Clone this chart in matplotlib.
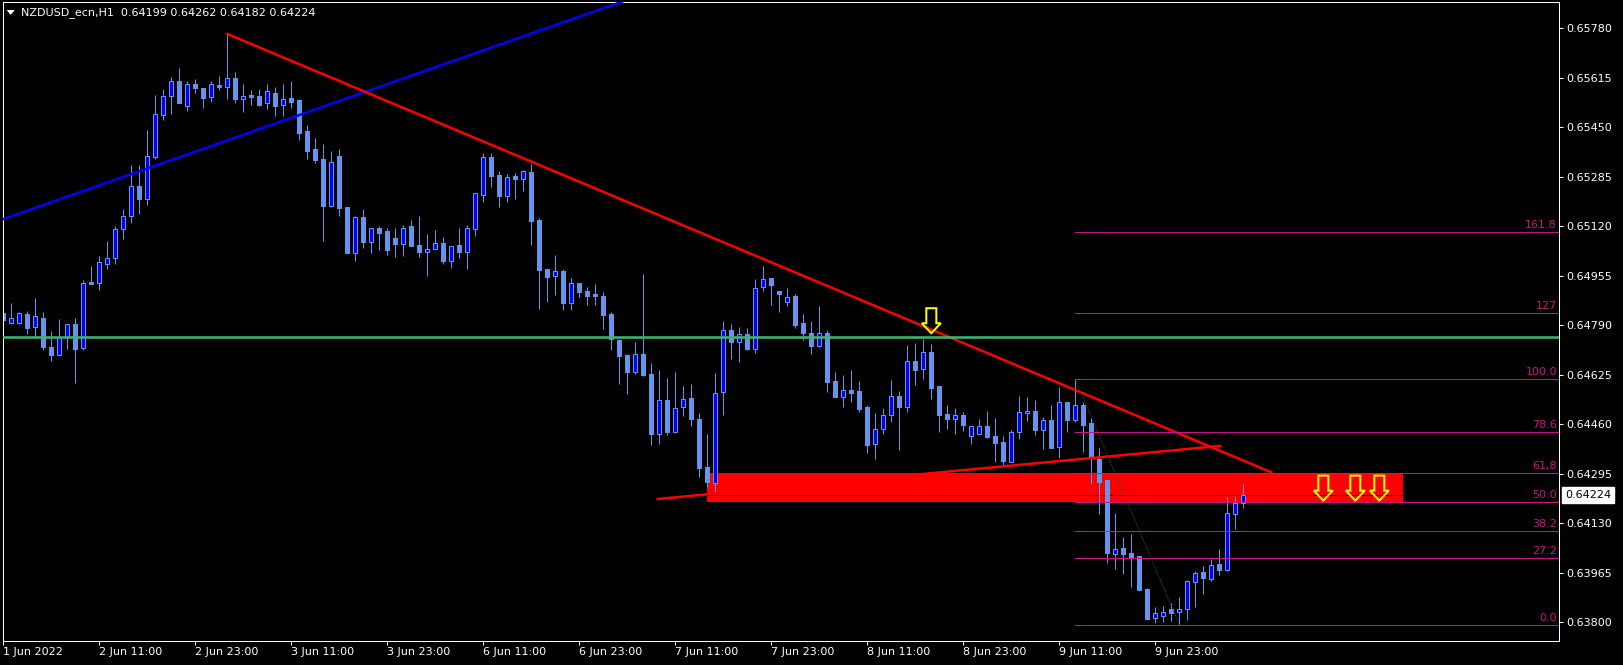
import matplotlib
matplotlib.use("Agg")
import matplotlib.pyplot as plt
from matplotlib.patches import Rectangle, Polygon
from matplotlib.transforms import IdentityTransform, blended_transform_factory

# ---------------- data (H1 bars, index 0 = 1 Jun 23:00) ----------------
title_text = "NZDUSD_ecn,H1  0.64199 0.64262 0.64182 0.64224"

opens = [0.64830, 0.64798, 0.64798, 0.64827, 0.64785, 0.64816, 0.64717, 0.64692, 0.64752, 0.64793,
         0.64715, 0.64934, 0.64932, 0.64995, 0.65016, 0.65110, 0.65156, 0.65253, 0.65210, 0.65352,
         0.65492, 0.65553, 0.65603, 0.65520, 0.65596, 0.65580, 0.65550, 0.65590, 0.65585, 0.65616,
         0.65546, 0.65557, 0.65554, 0.65530, 0.65566, 0.65523, 0.65547, 0.65541, 0.65437, 0.65377,
         0.65344, 0.65188, 0.65354, 0.65184, 0.65032, 0.65151, 0.65068, 0.65114, 0.65104, 0.65081,
         0.65062, 0.65121, 0.65057, 0.65036, 0.65046, 0.65064, 0.65006, 0.65057, 0.65035, 0.65110,
         0.65226, 0.65350, 0.65291, 0.65222, 0.65287, 0.65278, 0.65301, 0.65141, 0.64977, 0.64953,
         0.64971, 0.64865, 0.64930, 0.64904, 0.64894, 0.64887, 0.64827, 0.64741, 0.64691, 0.64635,
         0.64694, 0.64627, 0.64428, 0.64541, 0.64435, 0.64518, 0.64547, 0.64477, 0.64317, 0.64266,
         0.64568, 0.64774, 0.64735, 0.64761, 0.64712, 0.64918, 0.64947, 0.64903, 0.64868, 0.64887,
         0.64797, 0.64763, 0.64720, 0.64764, 0.64604, 0.64552, 0.64573, 0.64571, 0.64517, 0.64393,
         0.64445, 0.64490, 0.64554, 0.64518, 0.64671, 0.64645, 0.64700, 0.64587, 0.64494, 0.64478,
         0.64491, 0.64420, 0.64428, 0.64456, 0.64421, 0.64401, 0.64335, 0.64433, 0.64498, 0.64503,
         0.64442, 0.64476, 0.64385, 0.64533, 0.64475, 0.64523, 0.64466, 0.64345, 0.64273, 0.64028,
         0.64047, 0.64031, 0.64020, 0.63911, 0.63814, 0.63822, 0.63844, 0.63833, 0.63844, 0.63933,
         0.63967, 0.63945, 0.63994, 0.63974, 0.64162, 0.64199]
highs = [0.64866, 0.64866, 0.64835, 0.64837, 0.64880, 0.64833, 0.64771, 0.64811, 0.64793, 0.64816,
         0.64941, 0.64987, 0.65021, 0.65071, 0.65121, 0.65177, 0.65324, 0.65324, 0.65440, 0.65557,
         0.65577, 0.65617, 0.65647, 0.65604, 0.65611, 0.65580, 0.65606, 0.65621, 0.65761, 0.65634,
         0.65593, 0.65574, 0.65577, 0.65596, 0.65584, 0.65593, 0.65604, 0.65544, 0.65457, 0.65413,
         0.65394, 0.65371, 0.65377, 0.65184, 0.65154, 0.65177, 0.65116, 0.65121, 0.65116, 0.65114,
         0.65124, 0.65141, 0.65154, 0.65094, 0.65107, 0.65086, 0.65056, 0.65114, 0.65124, 0.65230,
         0.65363, 0.65363, 0.65303, 0.65296, 0.65298, 0.65307, 0.65327, 0.65147, 0.64977, 0.65026,
         0.64977, 0.64947, 0.64930, 0.64917, 0.64927, 0.64900, 0.64834, 0.64745, 0.64696, 0.64733,
         0.64961, 0.64663, 0.64641, 0.64614, 0.64634, 0.64587, 0.64596, 0.64497, 0.64427, 0.64631,
         0.64804, 0.64794, 0.64783, 0.64781, 0.64944, 0.64987, 0.64947, 0.64903, 0.64914, 0.64896,
         0.64827, 0.64804, 0.64854, 0.64773, 0.64634, 0.64623, 0.64641, 0.64604, 0.64525, 0.64497,
         0.64514, 0.64607, 0.64571, 0.64724, 0.64731, 0.64746, 0.64727, 0.64587, 0.64524, 0.64514,
         0.64500, 0.64456, 0.64477, 0.64506, 0.64481, 0.64421, 0.64441, 0.64553, 0.64550, 0.64540,
         0.64483, 0.64523, 0.64583, 0.64533, 0.64610, 0.64533, 0.64480, 0.64380, 0.64273, 0.64163,
         0.64083, 0.64093, 0.64020, 0.63914, 0.63851, 0.63854, 0.63866, 0.63884, 0.63941, 0.63971,
         0.63987, 0.64011, 0.64044, 0.64218, 0.64218, 0.64262]
lows = [0.64782, 0.64793, 0.64794, 0.64760, 0.64752, 0.64708, 0.64672, 0.64692, 0.64712, 0.64597,
        0.64707, 0.64928, 0.64907, 0.64977, 0.64994, 0.65078, 0.65132, 0.65161, 0.65191, 0.65344,
        0.65474, 0.65495, 0.65532, 0.65505, 0.65564, 0.65515, 0.65535, 0.65576, 0.65545, 0.65532,
        0.65502, 0.65525, 0.65521, 0.65512, 0.65488, 0.65488, 0.65515, 0.65408, 0.65344, 0.65332,
        0.65072, 0.65185, 0.65155, 0.65032, 0.65005, 0.65048, 0.65032, 0.65042, 0.65025, 0.65018,
        0.65022, 0.65055, 0.65018, 0.64955, 0.65046, 0.64995, 0.64982, 0.65015, 0.64978, 0.65088,
        0.65202, 0.65252, 0.65185, 0.65202, 0.65212, 0.65238, 0.65057, 0.64845, 0.64868, 0.64892,
        0.64842, 0.64842, 0.64885, 0.64858, 0.64858, 0.64778, 0.64708, 0.64595, 0.64561, 0.64627,
        0.64621, 0.64391, 0.64394, 0.64424, 0.64432, 0.64487, 0.64454, 0.64284, 0.64251, 0.64228,
        0.64491, 0.64677, 0.64668, 0.64707, 0.64698, 0.64905, 0.64857, 0.64835, 0.64854, 0.64782,
        0.64742, 0.64694, 0.64717, 0.64568, 0.64552, 0.64518, 0.64534, 0.64501, 0.64365, 0.64344,
        0.64428, 0.64467, 0.64374, 0.64501, 0.64591, 0.64612, 0.64544, 0.64434, 0.64444, 0.64427,
        0.64437, 0.64395, 0.64428, 0.64415, 0.64335, 0.64324, 0.64335, 0.64411, 0.64471, 0.64424,
        0.64377, 0.64382, 0.64347, 0.64435, 0.64468, 0.64368, 0.64265, 0.64162, 0.63998, 0.63977,
        0.63962, 0.63918, 0.63908, 0.63807, 0.63797, 0.63801, 0.63804, 0.63791, 0.63807, 0.63851,
        0.63894, 0.63938, 0.63957, 0.63971, 0.64111, 0.64182]
closes = [0.64807, 0.64816, 0.64830, 0.64782, 0.64820, 0.64717, 0.64691, 0.64752, 0.64793, 0.64712,
          0.64930, 0.64928, 0.65000, 0.65016, 0.65110, 0.65156, 0.65253, 0.65212, 0.65356, 0.65493,
          0.65553, 0.65603, 0.65532, 0.65596, 0.65582, 0.65548, 0.65593, 0.65585, 0.65616, 0.65545,
          0.65556, 0.65552, 0.65524, 0.65570, 0.65522, 0.65546, 0.65535, 0.65432, 0.65372, 0.65341,
          0.65188, 0.65333, 0.65182, 0.65032, 0.65151, 0.65068, 0.65116, 0.65098, 0.65042, 0.65062,
          0.65113, 0.65055, 0.65035, 0.65046, 0.65063, 0.65005, 0.65056, 0.65035, 0.65113, 0.65230,
          0.65350, 0.65288, 0.65222, 0.65283, 0.65278, 0.65303, 0.65138, 0.64975, 0.64952, 0.64971,
          0.64865, 0.64930, 0.64902, 0.64888, 0.64888, 0.64825, 0.64744, 0.64688, 0.64635, 0.64693,
          0.64624, 0.64428, 0.64540, 0.64435, 0.64516, 0.64543, 0.64478, 0.64315, 0.64268, 0.64566,
          0.64773, 0.64735, 0.64760, 0.64711, 0.64913, 0.64946, 0.64925, 0.64895, 0.64884, 0.64792,
          0.64764, 0.64722, 0.64763, 0.64602, 0.64552, 0.64573, 0.64565, 0.64511, 0.64392, 0.64446,
          0.64490, 0.64556, 0.64518, 0.64670, 0.64641, 0.64700, 0.64582, 0.64492, 0.64477, 0.64490,
          0.64457, 0.64453, 0.64456, 0.64418, 0.64398, 0.64337, 0.64433, 0.64500, 0.64506, 0.64441,
          0.64476, 0.64382, 0.64533, 0.64475, 0.64523, 0.64457, 0.64350, 0.64268, 0.64032, 0.64043,
          0.64028, 0.64018, 0.63908, 0.63811, 0.63831, 0.63836, 0.63832, 0.63844, 0.63937, 0.63964,
          0.63948, 0.63990, 0.63974, 0.64166, 0.64197, 0.64224]

time_tick_bars = [0, 12, 24, 36, 48, 60, 72, 84, 96, 108, 120, 132, 144]
time_tick_labels = ["1 Jun 2022", "2 Jun 11:00", "2 Jun 23:00", "3 Jun 11:00", "3 Jun 23:00",
                    "6 Jun 11:00", "6 Jun 23:00", "7 Jun 11:00", "7 Jun 23:00", "8 Jun 11:00",
                    "8 Jun 23:00", "9 Jun 11:00", "9 Jun 23:00"]
price_ticks = [0.63800, 0.63965, 0.64130, 0.64295, 0.64460, 0.64625, 0.64790, 0.64955,
               0.65120, 0.65285, 0.65450, 0.65615, 0.65780]
current_price = 0.64224

# drawn objects (bar index, price)
blue_line = [(0, 0.65144), (40, 0.65519)]
red_down_line = [(28, 0.65761), (158.5, 0.64300)]
red_up_line = [(81.8, 0.64211), (152.1, 0.64388)]
green_level = 0.64750
zone_bars = (88, 175)
zone_prices = (0.64201, 0.64299)
fib_high = (134, 0.64610)
fib_low = (147, 0.63791)
fib_levels = [0.0, 27.2, 38.2, 50.0, 61.8, 78.6, 100.0, 127.0, 160.1]
fib_labels = ["0.0", "27.2", "38.2", "50.0", "61,8", "78.6", "100.0", "127", "161.8"]
arrow_points = [(116, 0.64847), (165, 0.64289), (169, 0.64289), (172, 0.64289)]

# ---------------- figure ----------------
W, H = 1623, 665
L, R, T, B = 3, 1559, 2, 641
fig = plt.figure(figsize=(W / 100, H / 100), dpi=100, facecolor="black")
ax = fig.add_axes([L / W, 1 - B / H, (R - L) / W, (B - T) / H], facecolor="black")
ax.set_xlim(-0.04, 194.46)
ax.set_ylim(0.637377, 0.658677)

PX = 0.72  # points per pixel
bull_c, bear_c, edge_c = "#0000FF", "#6495ED", "#6495ED"

# zone rectangle (background object)
ax.add_patch(Rectangle((zone_bars[0], zone_prices[0]), zone_bars[1] - zone_bars[0],
                       zone_prices[1] - zone_prices[0], facecolor="#FF0000", edgecolor="none", zorder=1))
# bid line
ax.axhline(current_price, color="black", lw=1 * PX, zorder=1.5)

# candles
bw = 0.52
for i, (o, h, l, c) in enumerate(zip(opens, highs, lows, closes)):
    ax.plot([i, i], [l, h], color=edge_c, lw=1 * PX, zorder=2, solid_capstyle="butt")
    lo, hi = min(o, c), max(o, c)
    ax.add_patch(Rectangle((i - bw / 2, lo), bw, hi - lo,
                           facecolor=bull_c if c > o else bear_c, edgecolor=edge_c,
                           lw=1 * PX, zorder=2.5))

# lines
def ray(p0, p1, x_end_left, x_end_right):
    (x0, y0), (x1, y1) = p0, p1
    k = (y1 - y0) / (x1 - x0)
    return [x_end_left, x_end_right], [y0 + k * (x_end_left - x0), y0 + k * (x_end_right - x0)]

bx, by = ray(blue_line[0], blue_line[1], -2, 120)
ax.plot(bx, by, color="#0000FF", lw=2.5 * PX, zorder=3)
ax.plot([p[0] for p in red_down_line], [p[1] for p in red_down_line], color="#FF0000", lw=2.5 * PX, zorder=3)
ax.plot([p[0] for p in red_up_line], [p[1] for p in red_up_line], color="#FF0000", lw=2.5 * PX, zorder=3)
ax.axhline(green_level, color="#3CB371", lw=2.6 * PX, zorder=3)

# fibonacci
fib_c = "#C71585"
rng = fib_high[1] - fib_low[1]
ax.plot([fib_high[0], fib_low[0]], [fib_high[1], fib_low[1]], color="#2F4F4F", lw=1 * PX,
        ls=(0, (1, 1)), zorder=3)
trans_lbl = blended_transform_factory(ax.transAxes, ax.transData)
for lv, lb in zip(fib_levels, fib_labels):
    p = fib_low[1] + rng * lv / 100.0
    ax.plot([fib_high[0], 200], [p, p], color=fib_c, lw=1 * PX, zorder=3)
    ax.annotate(lb, xy=(1.0, p), xycoords=trans_lbl, xytext=(-2 * PX, 2 * PX),
                textcoords="offset points", ha="right", va="bottom", color=fib_c,
                fontsize=8, zorder=4)

# axes styling
for s in ax.spines.values():
    s.set_color("white")
    s.set_linewidth(1 * PX)
ax.yaxis.tick_right()
ax.set_yticks(price_ticks)
ax.set_yticklabels([f"{v:.5f}" for v in price_ticks])
ax.set_xticks(time_tick_bars)
ax.set_xticklabels(time_tick_labels, ha="left")
ax.tick_params(axis="both", colors="white", labelcolor="white", labelsize=8,
               length=4 * PX, width=1 * PX, direction="out")
ax.tick_params(axis="y", pad=3 * PX)
ax.tick_params(axis="x", pad=2 * PX)

# current price tag
ax.annotate(f"{current_price:.5f}", xy=(1.0, current_price), xycoords=trans_lbl,
            xytext=(6 * PX, 0), textcoords="offset points", ha="left", va="center",
            fontsize=8, color="black",
            bbox=dict(boxstyle="square,pad=0.3", facecolor="white", edgecolor="white"),
            annotation_clip=False, zorder=5)

fig.canvas.draw()
# arrows (pixel-sized shapes anchored at data points)
shape = [(-5, 0), (5, 0), (5, 15), (9.5, 15), (0, 25), (-9.5, 15), (-5, 15)]
for (bx_, py_) in arrow_points:
    X, Y = ax.transData.transform((bx_, py_))
    pts = [(X + dx, Y - dy) for dx, dy in shape]
    fig.add_artist(Polygon(pts, closed=True, facecolor="none", edgecolor="#FFFF00",
                           lw=2 * PX, transform=IdentityTransform(), zorder=6))

# header
fig.text(21 / W, 1 - 12.7 / H, title_text, color="white", fontsize=8, va="center", ha="left")
fig.add_artist(Polygon([(6.7, H - 10), (14.7, H - 10), (10.7, H - 15)], closed=True,
                       facecolor="white", edgecolor="none", transform=IdentityTransform()))

fig.savefig("out.png", dpi=100, facecolor="black")
